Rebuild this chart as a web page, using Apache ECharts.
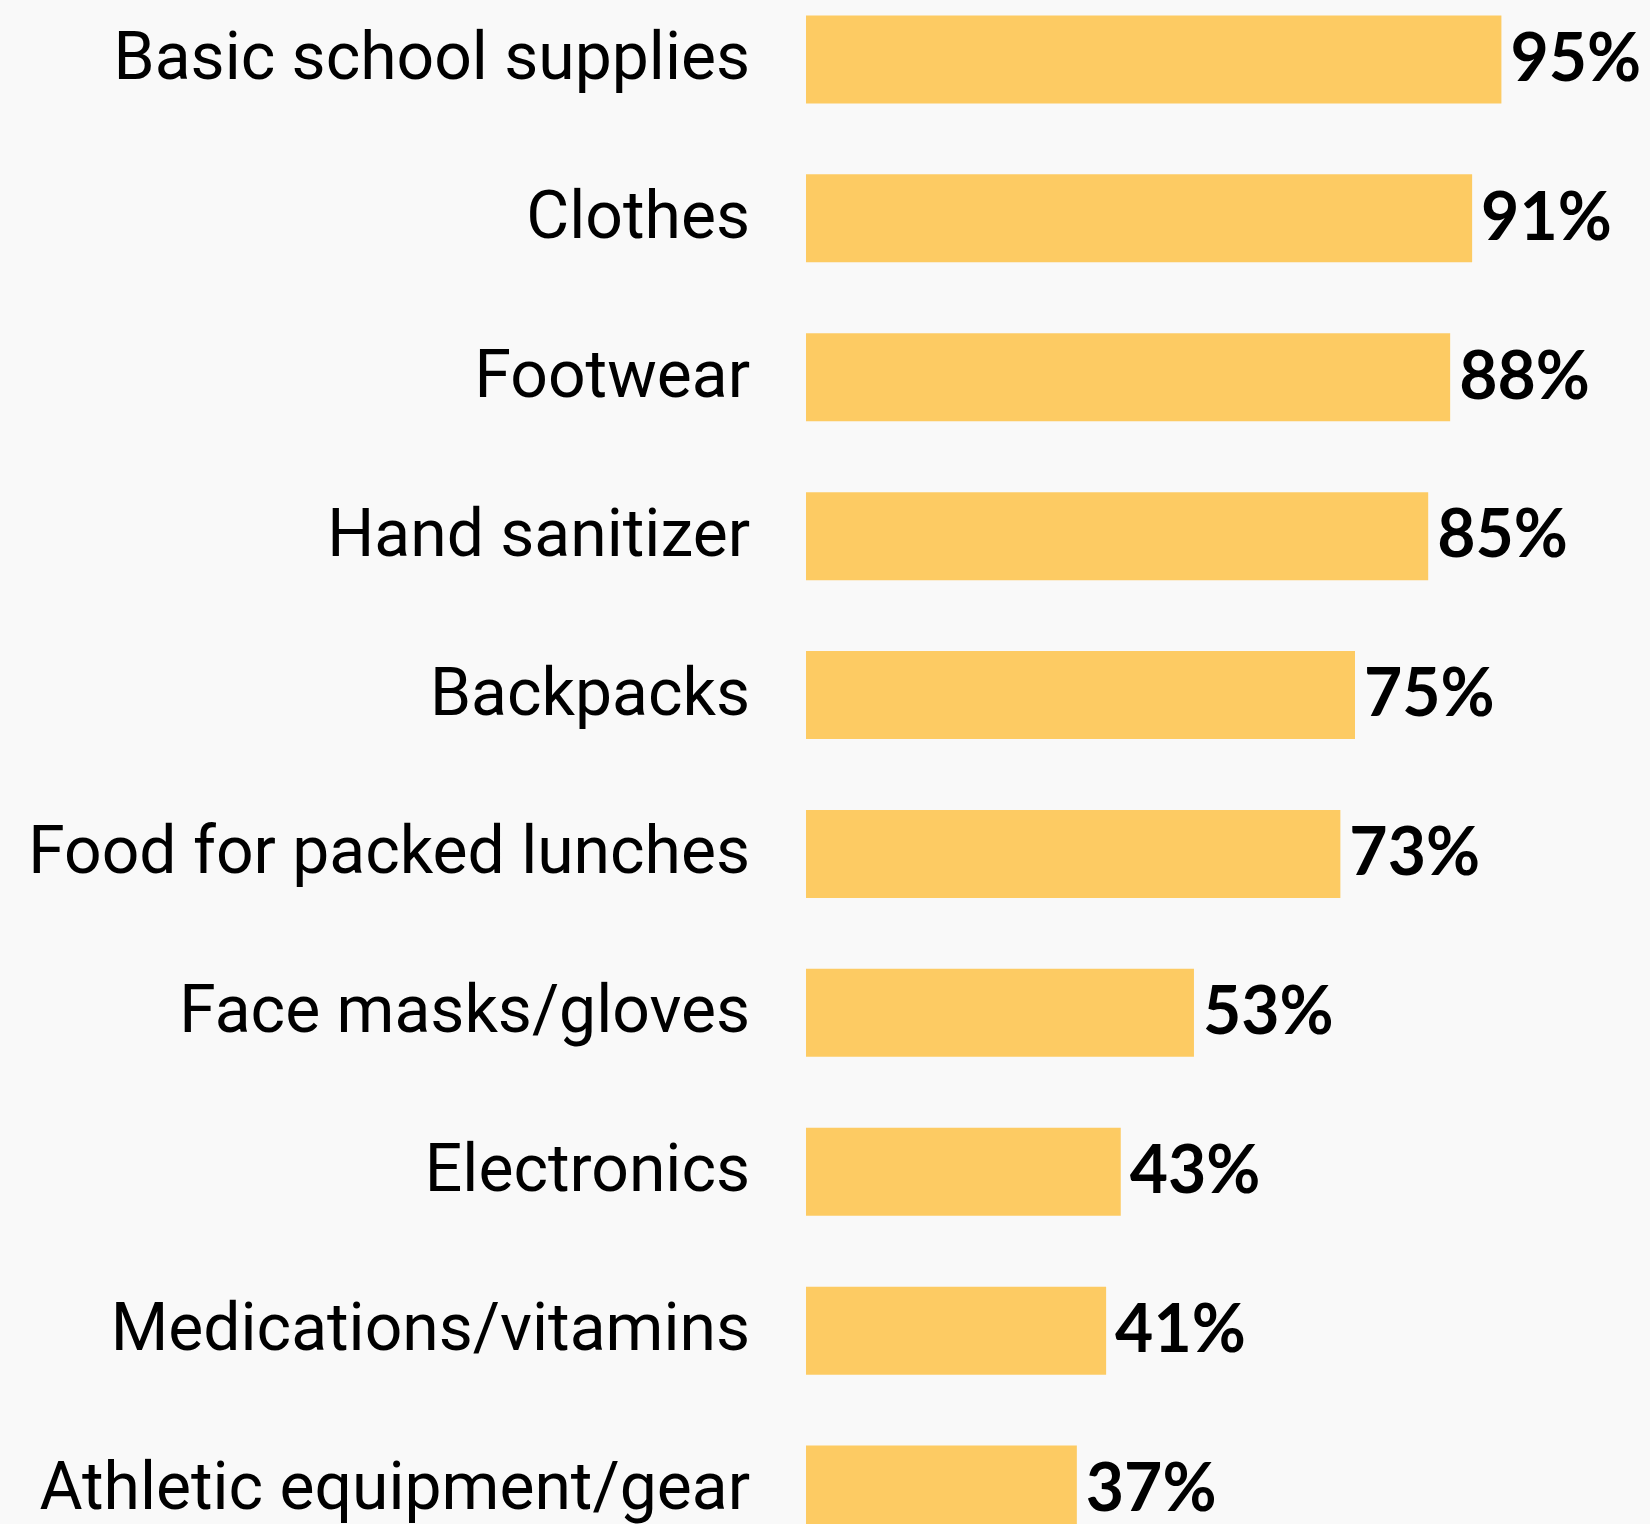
<!DOCTYPE html>
<html>
<head>
<meta charset="utf-8">
<style>
  html, body { margin: 0; padding: 0; background: #f9f9f9; overflow: hidden; }
  #chart { position: absolute; left: 0; top: -20px; width: 1650px; height: 1600px; }
</style>
<script src="https://cdn.jsdelivr.net/npm/echarts@6/dist/echarts.min.js"></script>
</head>
<body>
<div id="chart"></div>
<script>
// Share of back-to-school shoppers planning to buy each item
const categories = [
  'Basic school supplies',
  'Clothes',
  'Footwear',
  'Hand sanitizer',
  'Backpacks',
  'Food for packed lunches',
  'Face masks/gloves',
  'Electronics',
  'Medications/vitamins',
  'Athletic equipment/gear'
];
const shares = [95, 91, 88, 85, 75, 73, 53, 43, 41, 37];

const chart = echarts.init(document.getElementById('chart'), null, { renderer: 'canvas' });

chart.setOption({
  backgroundColor: '#f9f9f9',
  animation: false,
  grid: { left: 806, width: 732, top: 0, height: 1589 },
  xAxis: {
    type: 'value',
    min: 0,
    max: 100,
    show: false
  },
  yAxis: {
    type: 'category',
    data: categories,
    inverse: true,
    axisLine: { show: false },
    axisTick: { show: false },
    splitLine: { show: false },
    axisLabel: {
      margin: 56,
      formatter: v => '{name|' + v + '}',
      rich: {
        name: {
          color: '#000',
          fontFamily: 'Roboto',
          fontSize: 66,
          padding: [6, 0, 0, 0]
        }
      }
    }
  },
  series: [{
    type: 'bar',
    data: shares,
    barWidth: 88,
    itemStyle: { color: '#FDCB63' },
    label: {
      show: true,
      position: 'right',
      distance: 9,
      formatter: p => p.value + '%',
      color: '#000',
      fontFamily: 'Lato',
      fontWeight: 'bold',
      fontSize: 66
    }
  }]
});
</script>
</body>
</html>
